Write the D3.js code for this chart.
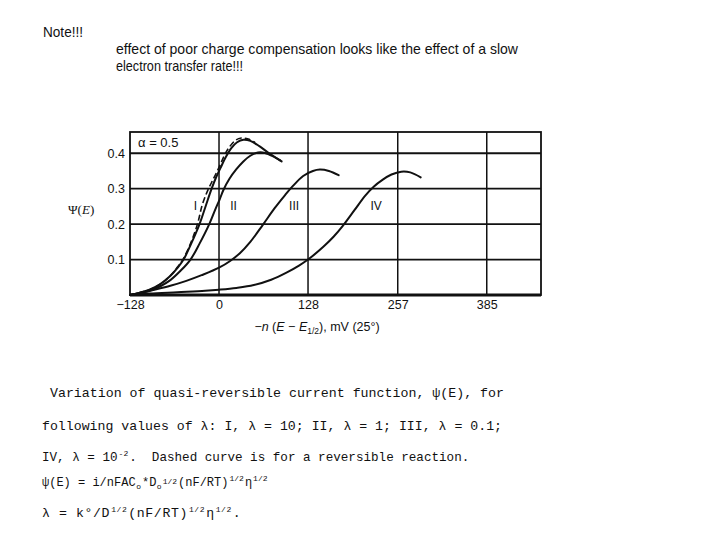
<!DOCTYPE html>
<html><head><meta charset="utf-8">
<script src="https://cdn.jsdelivr.net/npm/d3@7"></script>
<style>
html,body{margin:0;padding:0;background:#fff;}
svg{display:block;}
</style>
</head><body>
<svg id="chart" width="720" height="540"></svg>
<script>
// ---------- data ----------
const xTicks = [-128, 0, 128, 257, 385];
const yTicks = [0.1, 0.2, 0.3, 0.4];
const curveNames = ["I", "II", "III", "IV"];
const curveLabelX = [-34, 21, 108, 226];
const curveLabelY = [0.24, 0.24, 0.24, 0.24];

const curveI = [[-128,0],[-115,0.006],[-100,0.015],[-85,0.03],[-71,0.052],[-60,0.076],[-51,0.1],[-40,0.145],[-28,0.2],[-19,0.252],[-11,0.298],[-4,0.333],[2,0.358],[10,0.39],[18,0.415],[26,0.431],[35,0.438],[45,0.435],[58,0.42],[72,0.4],[88,0.38]];
const curveII = [[-128,0],[-115,0.005],[-100,0.012],[-85,0.024],[-70,0.042],[-55,0.069],[-41,0.1],[-28,0.145],[-14,0.2],[-5,0.243],[1,0.27],[6,0.295],[15,0.328],[25,0.355],[35,0.377],[45,0.393],[56,0.402],[66,0.401],[78,0.391],[90,0.377]];
const curveIII = [[-128,0],[-110,0.007],[-90,0.016],[-70,0.026],[-47,0.04],[-25,0.056],[0,0.077],[16,0.096],[30,0.118],[45,0.15],[63,0.198],[80,0.245],[95,0.282],[105,0.305],[121,0.336],[135,0.35],[145,0.354],[158,0.35],[172,0.338]];
const curveIV = [[-128,0],[-100,0.004],[-60,0.008],[-20,0.012],[0,0.015],[25,0.02],[50,0.028],[75,0.043],[97,0.063],[115,0.083],[128,0.1],[150,0.136],[165,0.165],[178,0.195],[195,0.24],[210,0.28],[222,0.305],[235,0.325],[248,0.34],[262,0.348],[275,0.346],[290,0.332]];
const curveReversible = [[-128,0],[-100,0.015],[-85,0.03],[-71,0.052],[-60,0.078],[-52,0.1],[-41,0.145],[-31,0.2],[-24,0.255],[-16,0.296],[-8,0.328],[0,0.36],[8,0.395],[15,0.418],[24,0.437],[32,0.443],[42,0.44],[52,0.43]];

const xDomain = [-128, 463];
const yDomain = [0, 0.46];

// ---------- drawing ----------
const svg = d3.select("#chart");
const ink = "#111";
const x = d3.scaleLinear().domain(xDomain).range([130, 541]);
const y = d3.scaleLinear().domain(yDomain).range([295, 132]);

// top note text
svg.append("text").attr("x", 43).attr("y", 36.5)
  .attr("font-family", "Liberation Sans, Arial, sans-serif").attr("font-size", 15)
  .attr("textLength", 40).attr("lengthAdjust", "spacingAndGlyphs").attr("fill", ink)
  .text("Note!!!");
svg.append("text").attr("x", 116).attr("y", 54)
  .attr("font-family", "Liberation Sans, Arial, sans-serif").attr("font-size", 15)
  .attr("textLength", 402).attr("lengthAdjust", "spacingAndGlyphs").attr("fill", ink)
  .text("effect of poor charge compensation looks like the effect of a slow");
svg.append("text").attr("x", 116).attr("y", 70.5)
  .attr("font-family", "Liberation Sans, Arial, sans-serif").attr("font-size", 15)
  .attr("textLength", 127).attr("lengthAdjust", "spacingAndGlyphs").attr("fill", ink)
  .text("electron transfer rate!!!");

// grid
const g = svg.append("g");
g.selectAll("line.gx").data(xTicks.slice(1)).join("line")
  .attr("x1", d => x(d)).attr("x2", d => x(d))
  .attr("y1", y(yDomain[1])).attr("y2", y(0))
  .attr("stroke", ink).attr("stroke-width", 1.5);
g.selectAll("line.gy").data(yTicks).join("line")
  .attr("x1", x(xDomain[0])).attr("x2", x(xDomain[1]))
  .attr("y1", d => y(d)).attr("y2", d => y(d))
  .attr("stroke", ink).attr("stroke-width", 1.8);
g.append("rect")
  .attr("x", x(xDomain[0])).attr("y", y(yDomain[1]))
  .attr("width", x(xDomain[1]) - x(xDomain[0])).attr("height", y(0) - y(yDomain[1]))
  .attr("fill", "none").attr("stroke", ink).attr("stroke-width", 1.8);
g.append("line").attr("x1", x(xDomain[0])).attr("x2", x(xDomain[1]))
  .attr("y1", y(0)).attr("y2", y(0)).attr("stroke", ink).attr("stroke-width", 3);

// axes (labels only)
const xAxis = d3.axisBottom(x).tickValues(xTicks).tickSize(0).tickPadding(5)
  .tickFormat(d => d < 0 ? "\u2212" + Math.abs(d) : String(d));
const ax = svg.append("g").attr("transform", `translate(0,${y(0)})`).call(xAxis);
ax.select(".domain").remove();
ax.selectAll("text").attr("font-family", "Liberation Sans, Arial, sans-serif")
  .attr("font-size", 12.5).attr("fill", ink);

const yAxis = d3.axisLeft(y).tickValues(yTicks).tickSize(0).tickPadding(5)
  .tickFormat(d3.format(".1f"));
const ay = svg.append("g").attr("transform", `translate(${x(xDomain[0])},0)`).call(yAxis);
ay.select(".domain").remove();
ay.selectAll("text").attr("font-family", "Liberation Sans, Arial, sans-serif")
  .attr("font-size", 12.5).attr("fill", ink);

// y axis title
const yt = svg.append("text").attr("x", 68).attr("y", 214)
  .attr("font-family", "Liberation Serif, Times New Roman, serif").attr("font-size", 13).attr("fill", ink);
yt.append("tspan").text("\u03A8(");
yt.append("tspan").attr("font-style", "italic").text("E");
yt.append("tspan").text(")");

// x axis title
const xt = svg.append("text").attr("x", 317).attr("y", 331).attr("text-anchor", "middle")
  .attr("font-family", "Liberation Sans, Arial, sans-serif").attr("font-size", 12.5).attr("fill", ink);
xt.append("tspan").text("\u2212");
xt.append("tspan").attr("font-style", "italic").text("n");
xt.append("tspan").text(" (");
xt.append("tspan").attr("font-style", "italic").text("E");
xt.append("tspan").text(" \u2212 ");
xt.append("tspan").attr("font-style", "italic").text("E");
xt.append("tspan").attr("font-size", 8.5).attr("dy", 3).text("1/2");
xt.append("tspan").attr("dy", -3).text("), mV (25\u00B0)");

// alpha label
svg.append("text").attr("x", 138).attr("y", 146.5)
  .attr("font-family", "Liberation Sans, Arial, sans-serif").attr("font-size", 13).attr("fill", ink)
  .text("\u03B1 = 0.5");

// curves
const line = d3.line().x(d => x(d[0])).y(d => y(d[1])).curve(d3.curveCatmullRom.alpha(0.5));
const curves = [curveI, curveII, curveIII, curveIV];
svg.append("g").selectAll("path").data(curves).join("path")
  .attr("d", line).attr("fill", "none").attr("stroke", ink)
  .attr("stroke-width", 2).attr("stroke-linecap", "round");
svg.append("path").datum(curveReversible).attr("d", line)
  .attr("fill", "none").attr("stroke", ink).attr("stroke-width", 1.6)
  .attr("stroke-dasharray", "6,3");

// curve labels
svg.append("g").selectAll("text").data(curveNames).join("text")
  .attr("x", (d, i) => x(curveLabelX[i])).attr("y", (d, i) => y(curveLabelY[i]))
  .attr("text-anchor", "middle")
  .attr("font-family", "Liberation Sans, Arial, sans-serif").attr("font-size", 12).attr("fill", ink)
  .text(d => d);

// caption (typewriter)
const mono = "Liberation Mono, Courier New, monospace";
function cap(yPos, opts, parts) {
  const t = svg.append("text").attr("x", 42).attr("y", yPos)
    .attr("font-family", mono).attr("font-size", opts.size || 13.2).attr("fill", ink)
    .attr("xml:space", "preserve");
  if (opts.len) t.attr("textLength", opts.len).attr("lengthAdjust", "spacingAndGlyphs");
  if (opts.ls) t.attr("letter-spacing", opts.ls);
  parts.forEach(p => {
    const s = t.append("tspan").text(p.t);
    if (p.sup) s.attr("font-size", 8).attr("dy", -5).attr("dx", 1);
    if (p.sub) s.attr("font-size", 8).attr("dy", 3).attr("dx", 0.5);
    if (p.back) s.attr("dy", p.back).attr("dx", 1);
  });
  return t;
}
cap(397, {len: 462}, [{t: " Variation of quasi-reversible current function, \u03C8(E), for"}]);
cap(430, {len: 460}, [{t: "following values of \u03BB: I, \u03BB = 10; II, \u03BB = 1; III, \u03BB = 0.1;"}]);
cap(461, {size: 12.6}, [{t: "IV, \u03BB = 10"}, {t: "-2", sup: true}, {t: ".  Dashed curve is for a reversible reaction.", back: 5}]);
cap(486, {size: 12}, [{t: "\u03C8(E) = i/nFAC"}, {t: "o", sub: true}, {t: "*D", back: -3}, {t: "o", sub: true},
  {t: "1/2", sup: true, }, {t: "(nF/RT)", back: 2}, {t: "1/2", sup: true}, {t: "\u03B7", back: 5}, {t: "1/2", sup: true}]);
cap(517, {size: 13.2, ls: 0.6}, [{t: "\u03BB = k\u00B0/D"}, {t: "1/2", sup: true}, {t: "(nF/RT)", back: 5}, {t: "1/2", sup: true},
  {t: "\u03B7", back: 5}, {t: "1/2", sup: true}, {t: ".", back: 5}]);
</script>
</body></html>
